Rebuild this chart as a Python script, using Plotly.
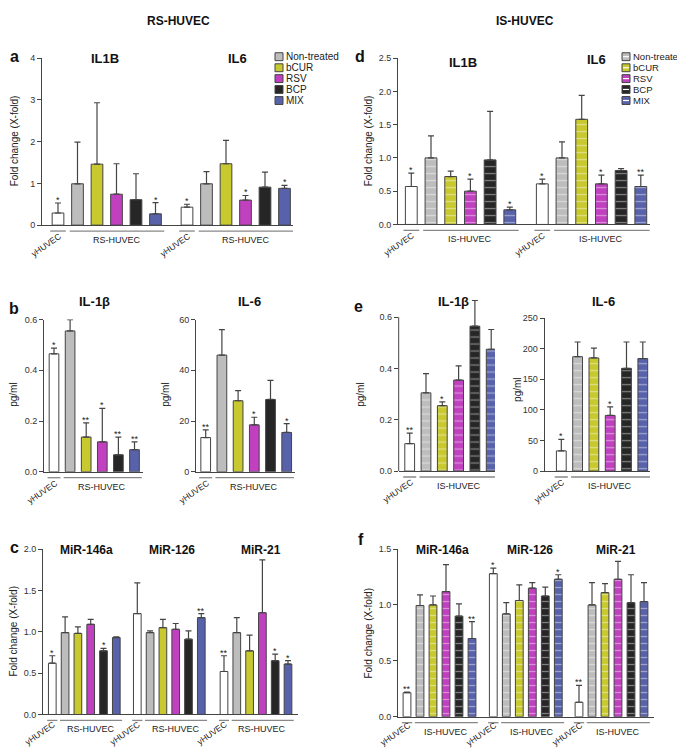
import plotly.graph_objects as go

W, H = 685, 748
FONT = "Arial, Liberation Sans, sans-serif"

# ---------------- data ----------------
conditions = ["yHUVEC", "Non-treated", "bCUR", "RSV", "BCP", "MIX"]
colors = ["#ffffff", "#bdbdbd", "#c8c92f", "#c040c0", "#262626", "#5862aa"]

# panel a (RS-HUVEC, qPCR fold change)
a_il1b_vals = [0.29, 0.99, 1.46, 0.74, 0.61, 0.27]
a_il1b_errs = [0.24, 1.00, 1.47, 0.73, 0.62, 0.27]
a_il1b_stars = ["*", "", "", "", "", "*"]
a_il6_vals = [0.43, 0.99, 1.47, 0.60, 0.91, 0.88]
a_il6_errs = [0.07, 0.29, 0.56, 0.11, 0.36, 0.07]
a_il6_stars = ["*", "", "", "*", "", "*"]

# panel b (RS-HUVEC, pg/ml)
b_il1b_vals = [0.465, 0.555, 0.137, 0.118, 0.067, 0.087]
b_il1b_errs = [0.022, 0.045, 0.056, 0.132, 0.070, 0.031]
b_il1b_stars = ["*", "", "**", "*", "**", "**"]
b_il6_vals = [13.5, 46.0, 28.0, 18.5, 28.5, 15.5]
b_il6_errs = [3.0, 10.0, 4.0, 3.0, 7.5, 3.5]
b_il6_stars = ["**", "", "", "*", "", "*"]

# panel c (RS-HUVEC, miRNA fold change)
c_mir146a_vals = [0.62, 0.99, 0.98, 1.09, 0.77, 0.93]
c_mir146a_errs = [0.09, 0.19, 0.08, 0.06, 0.03, 0.01]
c_mir146a_stars = ["*", "", "", "", "*", ""]
c_mir126_vals = [1.22, 0.99, 1.05, 1.03, 0.91, 1.17]
c_mir126_errs = [0.37, 0.02, 0.10, 0.07, 0.10, 0.05]
c_mir126_stars = ["", "", "", "", "", "**"]
c_mir21_vals = [0.52, 0.99, 0.77, 1.23, 0.65, 0.61]
c_mir21_errs = [0.19, 0.18, 0.19, 0.64, 0.08, 0.04]
c_mir21_stars = ["**", "", "", "", "*", "*"]

# panel d (IS-HUVEC, qPCR fold change)
d_il1b_vals = [0.57, 1.00, 0.72, 0.50, 0.97, 0.22]
d_il1b_errs = [0.20, 0.33, 0.08, 0.18, 0.73, 0.04]
d_il1b_stars = ["*", "", "", "*", "", "*"]
d_il6_vals = [0.61, 1.00, 1.58, 0.61, 0.81, 0.57]
d_il6_errs = [0.07, 0.24, 0.36, 0.13, 0.03, 0.17]
d_il6_stars = ["*", "", "", "*", "", "**"]

# panel e (IS-HUVEC, pg/ml)
e_il1b_vals = [0.107, 0.305, 0.255, 0.355, 0.565, 0.475]
e_il1b_errs = [0.041, 0.075, 0.015, 0.055, 0.100, 0.077]
e_il1b_stars = ["**", "", "*", "", "", ""]
e_il6_vals = [33, 187, 185, 91, 168, 184]
e_il6_errs = [19, 24, 16, 14, 43, 27]
e_il6_stars = ["*", "", "", "*", "", ""]

# panel f (IS-HUVEC, miRNA fold change)
f_mir146a_vals = [0.215, 0.995, 1.00, 1.12, 0.90, 0.70]
f_mir146a_errs = [0.005, 0.095, 0.08, 0.24, 0.11, 0.15]
f_mir146a_stars = ["**", "", "", "", "", "**"]
f_mir126_vals = [1.28, 0.92, 1.04, 1.15, 1.08, 1.23]
f_mir126_errs = [0.05, 0.10, 0.14, 0.05, 0.08, 0.04]
f_mir126_stars = ["*", "", "", "", "", "*"]
f_mir21_vals = [0.13, 1.00, 1.11, 1.23, 1.02, 1.03]
f_mir21_errs = [0.15, 0.20, 0.08, 0.16, 0.25, 0.17]
f_mir21_stars = ["**", "", "", "", "", ""]

# ---------------- layout helpers ----------------
def pxx(p):
    return p / W


def pxy(p):
    return 1 - p / H


fig = go.Figure()
axes_layout = {}
shapes = []
annotations = []
LINE = "#444444"


def text(x, y, s, size=10, bold=False, angle=0, xref="paper", yref="paper",
         xanchor="center", yanchor="middle", color="#222", xshift=0, yshift=0, pad=1):
    if bold:
        s = "<b>" + s + "</b>"
    annotations.append(dict(x=x, y=y, xref=xref, yref=yref, text=s, showarrow=False,
                            textangle=angle, xanchor=xanchor, yanchor=yanchor,
                            xshift=xshift, yshift=yshift, borderpad=pad,
                            font=dict(family=FONT, size=size, color=color)))


def add_panel(idx, geom, groups, group_label, striped):
    xa = "x" if idx == 1 else f"x{idx}"
    ya = "y" if idx == 1 else f"y{idx}"
    left, right = geom["left"], geom["right"]
    first, sp = geom["first"], geom["spacing"]
    y0, ytop, ytop_val = geom["y0"], geom["ytop"], geom["ytop_val"]
    rtop = geom.get("range_top", ytop_val)
    offsets = [(s - first) / sp for s in geom["starts"]]
    top_px = y0 - (y0 - ytop) * rtop / ytop_val

    for ci, cond in enumerate(conditions):
        xs = [off + ci for off in offsets]
        ys = [g["vals"][ci] for g in groups]
        es = [g["errs"][ci] for g in groups]
        marker = dict(color=colors[ci], line=dict(color=LINE, width=1))
        if striped and ci > 0:
            marker["pattern"] = dict(shape="-", fgcolor="rgba(255,255,255,0.85)",
                                     bgcolor=colors[ci], size=7, solidity=0.18)
        fig.add_trace(go.Bar(
            x=xs, y=ys, width=0.6, marker=marker, name=cond, showlegend=False,
            error_y=dict(type="data", symmetric=False, array=es,
                         arrayminus=[0] * len(es), color=LINE, thickness=1.2, width=3),
            xaxis=xa, yaxis=ya))
        for x, v, e, g in zip(xs, ys, es, groups):
            st = g["stars"][ci]
            if st:
                text(x, v + e, st, size=9, xref=xa, yref=ya, yanchor="bottom", yshift=-3,
                     pad=0)

    xr = [(left - first) / sp, (right - first) / sp]
    key = "" if idx == 1 else str(idx)
    axes_layout["xaxis" + key] = dict(
        domain=[pxx(left), pxx(right)], range=xr, anchor=ya, showline=True,
        linecolor=LINE, linewidth=1, showticklabels=False, ticks="", showgrid=False,
        zeroline=False, fixedrange=True)
    axes_layout["yaxis" + key] = dict(
        domain=[pxy(y0), pxy(top_px)], range=[0, rtop], anchor=xa,
        showline=geom.get("yline", True), linecolor=LINE, linewidth=1,
        ticks="outside", ticklen=4, tickcolor=LINE, tickwidth=1,
        tickvals=geom["tickvals"], ticktext=geom["ticktext"],
        tickfont=dict(family=FONT, size=9, color="#333"),
        showgrid=False, zeroline=False, fixedrange=True)
    if not geom.get("yline", True):
        shapes.append(dict(type="line", xref="paper", yref="paper",
                           x0=pxx(left), x1=pxx(left), y0=pxy(y0), y1=pxy(ytop),
                           line=dict(color=LINE, width=1)))

    # group titles and under-axis labels
    label_dy = geom.get("label_dy", 20)
    for off, g in zip(offsets, groups):
        tx, ty = g["title_px"]
        text(pxx(tx), pxy(ty), g["title"], size=geom.get("title_size", 13), bold=True,
             color="#111")
        ly = pxy(y0 + 6)
        shapes.append(dict(type="line", xref=xa, yref="paper", x0=off - 0.4, x1=off + 0.4,
                           y0=ly, y1=ly, line=dict(color="#888", width=1.3)))
        shapes.append(dict(type="line", xref=xa, yref="paper", x0=off + 0.6, x1=off + 5.45,
                           y0=ly, y1=ly, line=dict(color="#888", width=1.3)))
        text(off + 3, pxy(y0 + 15), group_label, size=9, xref=xa, color="#222", pad=0)
        text(off, pxy(y0 + label_dy), "yHUVEC", size=8.5, xref=xa, angle=-35, xshift=-12,
             color="#222", pad=0)


def legend(x_sq, y_rows, striped, size):
    for i, cond in enumerate(conditions[1:]):
        yc = y_rows[i]
        shapes.append(dict(type="rect", xref="paper", yref="paper",
                           x0=pxx(x_sq), x1=pxx(x_sq + 8), y0=pxy(yc + 4), y1=pxy(yc - 4),
                           fillcolor=colors[i + 1], line=dict(color=LINE, width=1)))
        if striped:
            shapes.append(dict(type="line", xref="paper", yref="paper",
                               x0=pxx(x_sq + 1), x1=pxx(x_sq + 7), y0=pxy(yc), y1=pxy(yc),
                               line=dict(color="white", width=1.2)))
        text(pxx(x_sq + 10), pxy(yc), cond, size=size, xanchor="left", color="#222", pad=0)


# ---------------- panels ----------------
add_panel(1, dict(left=34, right=285, first=50, spacing=19.5, y0=215, ytop=45.7, ytop_val=4,
                  starts=[50, 179], tickvals=[0, 1, 2, 3, 4], ticktext=["0", "1", "2", "3", "4"]),
          [dict(title="IL1B", vals=a_il1b_vals, errs=a_il1b_errs, stars=a_il1b_stars, title_px=(97, 46)),
           dict(title="IL6", vals=a_il6_vals, errs=a_il6_errs, stars=a_il6_stars, title_px=(230, 46))],
          "RS-HUVEC", False)

add_panel(2, dict(left=36, right=135, first=46, spacing=16.1, y0=465, ytop=310.7, ytop_val=0.6,
                  starts=[46], tickvals=[0, 0.2, 0.4, 0.6], ticktext=["0.0", "0.2", "0.4", "0.6"]),
          [dict(title="IL-1β", vals=b_il1b_vals, errs=b_il1b_errs, stars=b_il1b_stars, title_px=(87, 292))],
          "RS-HUVEC", False)

add_panel(3, dict(left=188, right=287, first=197.7, spacing=16.2, y0=465, ytop=310.7, ytop_val=60,
                  starts=[197.7], tickvals=[0, 20, 40, 60], ticktext=["0", "20", "40", "60"]),
          [dict(title="IL-6", vals=b_il6_vals, errs=b_il6_errs, stars=b_il6_stars, title_px=(241, 292))],
          "RS-HUVEC", False)

add_panel(4, dict(left=35, right=290, first=44.3, spacing=12.8, y0=711, ytop=543.3, ytop_val=2.0,
                  starts=[44.3, 129.3, 216], tickvals=[0, 0.5, 1.0, 1.5, 2.0],
                  ticktext=["0.0", "0.5", "1.0", "1.5", "2.0"], title_size=12, label_dy=19),
          [dict(title="MiR-146a", vals=c_mir146a_vals, errs=c_mir146a_errs, stars=c_mir146a_stars, title_px=(78, 544)),
           dict(title="MiR-126", vals=c_mir126_vals, errs=c_mir126_errs, stars=c_mir126_stars, title_px=(164, 544)),
           dict(title="MiR-21", vals=c_mir21_vals, errs=c_mir21_errs, stars=c_mir21_stars, title_px=(253, 544))],
          "RS-HUVEC", False)

add_panel(5, dict(left=390, right=642, first=403.3, spacing=19.7, y0=214.3, ytop=45.7, ytop_val=2.5,
                  starts=[403.3, 534.3], tickvals=[0, 0.5, 1.0, 1.5, 2.0, 2.5],
                  ticktext=["0.0", "0.5", "1.0", "1.5", "2.0", "2.5"]),
          [dict(title="IL1B", vals=d_il1b_vals, errs=d_il1b_errs, stars=d_il1b_stars, title_px=(455, 50)),
           dict(title="IL6", vals=d_il6_vals, errs=d_il6_errs, stars=d_il6_stars, title_px=(588, 47))],
          "IS-HUVEC", True)

add_panel(6, dict(left=390.7, right=487, first=401.7, spacing=16.3, y0=464.3, ytop=308.3, ytop_val=0.6,
                  range_top=0.7, yline=False, starts=[401.7], tickvals=[0, 0.2, 0.4, 0.6],
                  ticktext=["0.0", "0.2", "0.4", "0.6"]),
          [dict(title="IL-1β", vals=e_il1b_vals, errs=e_il1b_errs, stars=e_il1b_stars, title_px=(445, 292))],
          "IS-HUVEC", True)

add_panel(7, dict(left=536.7, right=642, first=553.3, spacing=16.3, y0=464.3, ytop=309.3, ytop_val=250,
                  starts=[553.3], tickvals=[0, 50, 100, 150, 200, 250],
                  ticktext=["0", "50", "100", "150", "200", "250"]),
          [dict(title="IL-6", vals=e_il6_vals, errs=e_il6_errs, stars=e_il6_stars, title_px=(595, 292))],
          "IS-HUVEC", True)

add_panel(8, dict(left=390, right=646, first=399, spacing=13, y0=713.3, ytop=543.3, ytop_val=1.5,
                  starts=[399, 485.3, 571], tickvals=[0, 0.5, 1.0, 1.5],
                  ticktext=["0.0", "0.5", "1.0", "1.5"], title_size=12, label_dy=17),
          [dict(title="MiR-146a", vals=f_mir146a_vals, errs=f_mir146a_errs, stars=f_mir146a_stars, title_px=(434, 544)),
           dict(title="MiR-126", vals=f_mir126_vals, errs=f_mir126_errs, stars=f_mir126_stars, title_px=(522, 544)),
           dict(title="MiR-21", vals=f_mir21_vals, errs=f_mir21_errs, stars=f_mir21_stars, title_px=(608, 544))],
          "IS-HUVEC", True)

# legends
rows = [44.3, 55.5, 66.5, 77.5, 88.7]
legend(267, rows, False, 10)
legend(614, rows, True, 9.5)

# y-axis titles
for (x, y, s) in [(6, 130, "Fold change (X-fold)"), (6, 387, "pg/ml"), (158, 387, "pg/ml"),
                  (6, 627, "Fold change (X-fold)"), (360, 130, "Fold change (X-fold)"),
                  (353, 387, "pg/ml"), (510, 382, "pg/ml"), (361, 628, "Fold change (X-fold)")]:
    text(pxx(x), pxy(y), s, size=10, angle=-90, color="#222")

# panel letters
for (x, y, s) in [(6, 44, "a"), (352, 44, "d"), (6, 300, "b"), (350, 297, "e"),
                  (6, 542, "c"), (353, 534, "f")]:
    text(pxx(x), pxy(y), s, size=16, bold=True, color="#111")

# section titles
text(pxx(170), pxy(8), "RS-HUVEC", size=12, bold=True, color="#111")
text(pxx(517), pxy(8), "IS-HUVEC", size=12, bold=True, color="#111")

fig.update_layout(
    width=W, height=H, margin=dict(l=0, r=0, t=0, b=0),
    paper_bgcolor="white", plot_bgcolor="white", barmode="overlay",
    font=dict(family=FONT), showlegend=False,
    shapes=shapes, annotations=annotations, **axes_layout)

fig.write_html("out.html")
